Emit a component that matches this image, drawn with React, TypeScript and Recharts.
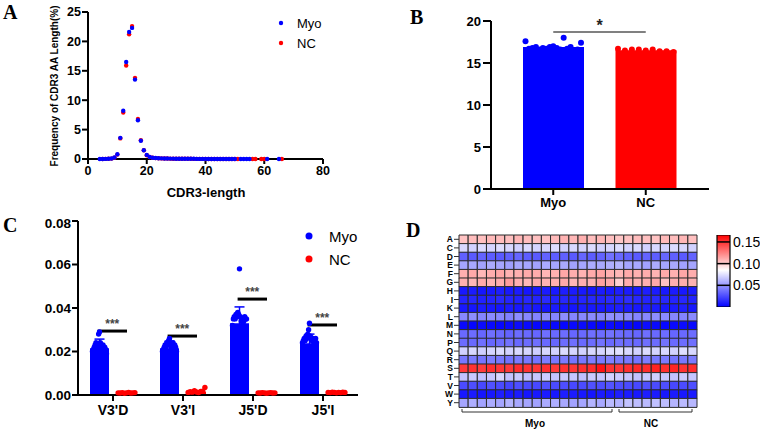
import React from 'react';
import {
  ScatterChart, Scatter, XAxis, YAxis, ComposedChart, Bar, BarChart, Cell,
  ReferenceLine, ErrorBar,
} from 'recharts';

const FONT = '"Liberation Sans", Arial, Helvetica, sans-serif';
const SERIF = '"Liberation Serif", "Times New Roman", serif';
const BLUE = '#0000ff';
const RED = '#ff0000';

// ---------- Panel A: CDR3 length distribution ----------
const myoLen = [4, 5, 6, 7, 8, 9, 10, 11, 12, 13, 14, 15, 16, 17, 18, 19, 20, 21, 22, 23, 24, 25, 26, 27, 28, 29, 30, 31, 32, 33, 34, 35, 36, 37, 38, 39, 40, 41, 42, 43, 44, 45, 46, 47, 48, 49, 50, 52, 53, 54, 55, 61, 65];
const myoFreq = [0.01, 0.01, 0.02, 0.03, 0.08, 0.25, 0.8, 3.6, 8.2, 16.5, 21.6, 22.3, 13.5, 6.6, 3.1, 1.5, 0.7, 0.35, 0.22, 0.16, 0.13, 0.11, 0.09, 0.08, 0.07, 0.06, 0.05, 0.05, 0.04, 0.04, 0.03, 0.03, 0.03, 0.02, 0.02, 0.02, 0.02, 0.01, 0.01, 0.01, 0.01, 0.01, 0.01, 0.01, 0.01, 0.01, 0.01, 0.005, 0.005, 0.005, 0.005, 0.003, 0.002];
const ncLen = [5, 6, 7, 8, 9, 10, 11, 12, 13, 14, 15, 16, 17, 18, 19, 20, 21, 22, 23, 24, 25, 26, 27, 28, 29, 30, 31, 32, 33, 34, 35, 36, 37, 38, 39, 40, 41, 42, 43, 44, 45, 46, 47, 48, 49, 50, 51, 56, 57, 59, 60, 66];
const ncFreq = [0.01, 0.02, 0.03, 0.07, 0.22, 0.75, 3.5, 7.9, 15.9, 21.2, 22.6, 13.8, 6.8, 3.2, 1.5, 0.65, 0.33, 0.2, 0.15, 0.12, 0.1, 0.09, 0.08, 0.06, 0.05, 0.05, 0.04, 0.04, 0.03, 0.03, 0.03, 0.02, 0.02, 0.02, 0.02, 0.01, 0.01, 0.01, 0.01, 0.01, 0.01, 0.01, 0.01, 0.01, 0.01, 0.01, 0.01, 0.004, 0.004, 0.004, 0.004, 0.004];
const aXTicks = [0, 20, 40, 60, 80];
const aYTicks = [0, 5, 10, 15, 20, 25];

// ---------- Panel B: per-sample percentage ----------
const bGroups = ['Myo', 'NC'];
const bMyo = [17.6, 16.7, 16.8, 16.9, 16.6, 16.8, 16.7, 16.9, 17.0, 16.8, 16.6, 18.0, 16.7, 16.9, 16.5, 16.6, 17.4];
const bNc = [16.7, 16.5, 16.6, 16.6, 16.5, 16.6, 16.4, 16.4, 16.3];
const bYTicks = [0, 5, 10, 15, 20];
const bSigY = 18.7;

// ---------- Panel C: insertion/deletion ----------
const cCats = ["V3'D", "V3'I", "J5'D", "J5'I"];
const cMyoMean = [0.0215, 0.0215, 0.033, 0.0238];
const cMyoErr = [0.0042, 0.0032, 0.0075, 0.0042];
const cNcMean = [0.001, 0.0015, 0.001, 0.0012];
const cMyoDots = [
  [0.020, 0.021, 0.022, 0.023, 0.024, 0.022, 0.023, 0.028, 0.029, 0.024, 0.022, 0.021, 0.023, 0.020, 0.022, 0.021, 0.019],
  [0.020, 0.021, 0.022, 0.023, 0.022, 0.024, 0.023, 0.025, 0.026, 0.024, 0.023, 0.022, 0.024, 0.021, 0.023, 0.022, 0.020],
  [0.032, 0.035, 0.036, 0.035, 0.037, 0.036, 0.038, 0.037, 0.058, 0.036, 0.034, 0.035, 0.033, 0.034, 0.036, 0.035, 0.035],
  [0.024, 0.025, 0.026, 0.025, 0.027, 0.026, 0.028, 0.030, 0.033, 0.027, 0.026, 0.025, 0.026, 0.024, 0.025, 0.026, 0.024],
];
const cNcDots = [
  [0.0010, 0.0009, 0.0011, 0.0008, 0.0010, 0.0012, 0.0009, 0.0010, 0.0011],
  [0.0012, 0.0015, 0.0013, 0.0020, 0.0014, 0.0011, 0.0016, 0.0018, 0.0035],
  [0.0010, 0.0009, 0.0011, 0.0010, 0.0008, 0.0010, 0.0011, 0.0009, 0.0010],
  [0.0012, 0.0011, 0.0013, 0.0012, 0.0010, 0.0012, 0.0011, 0.0013, 0.0012],
];
const cSigY = [0.0294, 0.0271, 0.0441, 0.0322];
const cYTicks = [0, 0.02, 0.04, 0.06, 0.08];

// ---------- Panel D: amino-acid usage heatmap (values x1000) ----------
const dRows = ['A', 'C', 'D', 'E', 'F', 'G', 'H', 'I', 'K', 'L', 'M', 'N', 'P', 'Q', 'R', 'S', 'T', 'V', 'W', 'Y'];
const rowA = [104, 106, 105, 107, 106, 105, 108, 106, 105, 104, 107, 109, 108, 110, 106, 108, 105, 103, 104, 106, 105, 104, 107, 106, 108, 105];
const rowC = [72, 70, 73, 71, 74, 72, 70, 73, 71, 72, 74, 70, 72, 71, 73, 70, 72, 74, 71, 73, 70, 72, 71, 73, 72, 70];
const rowD = [32, 30, 33, 31, 30, 32, 34, 31, 30, 33, 31, 32, 30, 34, 31, 33, 38, 35, 32, 30, 33, 31, 34, 32, 30, 33];
const rowE = [55, 56, 54, 57, 55, 53, 56, 55, 54, 57, 55, 56, 54, 55, 57, 56, 58, 60, 55, 56, 54, 57, 55, 56, 54, 55];
const rowF = [110, 112, 108, 111, 113, 109, 110, 112, 111, 108, 110, 113, 111, 109, 112, 114, 110, 108, 112, 110, 111, 109, 112, 110, 113, 111];
const rowG = [110, 108, 112, 109, 111, 116, 110, 108, 111, 109, 110, 112, 108, 110, 109, 115, 112, 100, 111, 109, 110, 112, 104, 110, 111, 109];
const rowH = [8, 9, 7, 8, 10, 8, 9, 7, 8, 9, 8, 10, 9, 8, 7, 9, 8, 10, 9, 8, 10, 9, 8, 9, 8, 9];
const rowI = [12, 13, 11, 12, 14, 12, 11, 13, 12, 14, 12, 13, 11, 12, 13, 12, 14, 13, 15, 13, 12, 14, 13, 12, 13, 12];
const rowK = [8, 7, 9, 8, 7, 9, 8, 10, 8, 7, 9, 8, 7, 9, 8, 8, 9, 10, 9, 8, 10, 9, 8, 9, 10, 8];
const rowL = [45, 47, 44, 46, 45, 43, 47, 45, 44, 46, 45, 47, 44, 45, 46, 44, 48, 47, 46, 44, 45, 47, 46, 45, 44, 46];
const rowM = [3, 2, 4, 3, 2, 3, 4, 3, 2, 4, 3, 2, 3, 4, 3, 2, 4, 3, 3, 2, 4, 3, 2, 3, 4, 3];
const rowN = [35, 36, 34, 37, 35, 33, 36, 35, 34, 37, 35, 36, 34, 35, 37, 36, 38, 36, 35, 34, 37, 35, 36, 34, 35, 36];
const rowP = [36, 35, 37, 34, 36, 38, 35, 36, 37, 35, 34, 36, 37, 35, 36, 38, 35, 37, 36, 35, 37, 36, 38, 35, 36, 37];
const rowQ = [70, 72, 69, 71, 73, 70, 72, 71, 69, 72, 70, 73, 71, 70, 72, 71, 74, 75, 72, 70, 73, 71, 72, 70, 74, 72];
const rowR = [40, 41, 39, 42, 40, 38, 41, 40, 39, 42, 40, 41, 39, 40, 42, 41, 43, 41, 40, 39, 42, 40, 41, 39, 40, 41];
const rowS = [148, 150, 147, 151, 149, 148, 152, 150, 149, 151, 148, 150, 149, 151, 152, 160, 150, 149, 151, 153, 152, 155, 151, 154, 150, 152];
const rowT = [65, 67, 64, 66, 72, 65, 67, 64, 66, 68, 65, 67, 66, 64, 67, 66, 70, 68, 66, 65, 67, 69, 66, 65, 68, 66];
const rowV = [25, 26, 24, 27, 25, 23, 26, 25, 24, 27, 25, 26, 24, 25, 27, 26, 28, 26, 25, 24, 27, 25, 26, 24, 25, 26];
const rowW = [8, 9, 7, 8, 10, 8, 9, 7, 8, 9, 8, 10, 9, 8, 7, 9, 8, 10, 9, 8, 10, 9, 8, 9, 8, 9];
const rowY = [55, 58, 54, 57, 55, 60, 56, 55, 54, 57, 58, 56, 54, 55, 60, 56, 62, 60, 65, 63, 62, 64, 63, 60, 62, 61];
const heatRows = [rowA, rowC, rowD, rowE, rowF, rowG, rowH, rowI, rowK, rowL, rowM, rowN, rowP, rowQ, rowR, rowS, rowT, rowV, rowW, rowY];
const dGroups = [{ name: 'Myo', n: 17 }, { name: 'NC', n: 9 }];
const cbTicks = [0.05, 0.1, 0.15];
const cbMax = 0.166;
const cbMid = 0.085;

// ---------- helpers ----------
const mean = (a: number[]) => a.reduce((s, v) => s + v, 0) / a.length;
function heatColor(v: number) {
  if (v <= cbMid) {
    const c = Math.round(255 * Math.max(0, v / cbMid));
    return `rgb(${c},${c},255)`;
  }
  const t = Math.min(1, (v - cbMid) / (cbMax - cbMid));
  const c = Math.round(255 * (1 - t));
  return `rgb(255,${c},${c})`;
}
const spread = (n: number, j: number, half: number) => (n <= 1 ? 0 : -half + (2 * half * j) / (n - 1));

const axisTick = (size: number) => ({ fontSize: size, fontWeight: 'bold' as const, fill: '#000', fontFamily: FONT });
const dot = (r: number, color: string) => (p: any) => <circle cx={p.cx} cy={p.cy} r={r} fill={color} />;

// data assembly
const aMyo = myoLen.map((x, i) => ({ x, y: myoFreq[i] }));
const aNc = ncLen.map((x, i) => ({ x, y: ncFreq[i] }));

const bData = [{ g: bGroups[0], v: mean(bMyo) }, { g: bGroups[1], v: mean(bNc) }];
const bMyoPts = bMyo.map((y, j) => ({ x: 0 + spread(bMyo.length, j, 0.3), y }));
const bNcPts = bNc.map((y, j) => ({ x: 1 + spread(bNc.length, j, 0.3), y }));

const cData = cCats.map((c, i) => ({ c, myo: cMyoMean[i], nc: cNcMean[i], err: cMyoErr[i] }));
const cMyoPts = cMyoDots.flatMap((arr, i) => arr.map((y, j) => ({ x: i + 0.307 + spread(arr.length, j, 0.1), y })));
const cNcPts = cNcDots.flatMap((arr, i) => arr.map((y, j) => ({ x: i + 0.693 + spread(arr.length, j, 0.12), y })));

const nCols = rowA.length;
const colKeys = Array.from({ length: nCols }, (_, j) => `c${j}`);
const hmData = dRows.map((row) => {
  const o: any = { row };
  colKeys.forEach((k) => (o[k] = 1));
  return o;
});

export default function App() {
  return (
    <div style={{ position: 'absolute', left: 0, top: 0, width: 760, height: 431, background: '#fff', fontFamily: FONT, overflow: 'hidden' }}>
      {/* Panel A */}
      <div style={{ position: 'absolute', left: 0, top: 0 }}>
        <ScatterChart width={340} height={210} margin={{ top: 12, right: 17, bottom: 0, left: 0 }}>
          <XAxis type="number" dataKey="x" domain={[0, 80]} ticks={aXTicks} height={51}
            stroke="#000" strokeWidth={2} tickSize={5} tickMargin={2} tick={axisTick(12.5)} />
          <YAxis type="number" dataKey="y" domain={[0, 25]} ticks={aYTicks} width={88}
            stroke="#000" strokeWidth={2} tickSize={6} tickMargin={1} tick={axisTick(12.5)} />
          <Scatter data={aNc} isAnimationActive={false} shape={dot(2.2, RED)} />
          <Scatter data={aMyo} isAnimationActive={false} shape={dot(2.2, BLUE)} />
        </ScatterChart>
      </div>

      {/* Panel B */}
      <div style={{ position: 'absolute', left: 380, top: 0 }}>
        <ComposedChart width={380} height={215} data={bData} margin={{ top: 21, right: 51, bottom: 0, left: 71 }}>
          <XAxis xAxisId="cat" dataKey="g" type="category" padding={{ left: 16, right: 17 }} height={26}
            stroke="#000" strokeWidth={2} tickSize={6} tickMargin={3} tick={axisTick(13)} />
          <XAxis xAxisId="num" dataKey="x" type="number" domain={[-0.5, 1.5]} padding={{ left: 16, right: 17 }} hide allowDataOverflow />
          <YAxis domain={[0, 20]} ticks={bYTicks} width={40} stroke="#000" strokeWidth={2}
            tickSize={8} tickMargin={2} tick={axisTick(13)} />
          <Bar xAxisId="cat" dataKey="v" barSize={61} isAnimationActive={false}>
            <Cell fill={BLUE} />
            <Cell fill={RED} />
          </Bar>
          <Scatter xAxisId="num" data={bMyoPts} dataKey="y" isAnimationActive={false} shape={dot(3, BLUE)} />
          <Scatter xAxisId="num" data={bNcPts} dataKey="y" isAnimationActive={false} shape={dot(3, RED)} />
          <ReferenceLine xAxisId="num" segment={[{ x: 0, y: bSigY }, { x: 1, y: bSigY }]} stroke="#808080" strokeWidth={2}
            label={{ value: '*', position: 'top', offset: 1, fill: '#222', fontSize: 16, fontWeight: 'bold' }} />
        </ComposedChart>
      </div>

      {/* Panel C */}
      <div style={{ position: 'absolute', left: 0, top: 215 }}>
        <ComposedChart width={380} height={216} data={cData} margin={{ top: 6, right: 22, bottom: 0, left: 0 }} barGap={8}>
          <XAxis xAxisId="cat" dataKey="c" type="category" height={36} stroke="#000" strokeWidth={2}
            tickSize={6} tickMargin={4} tick={axisTick(14)} />
          <XAxis xAxisId="num" dataKey="x" type="number" domain={[0, 4]} hide allowDataOverflow />
          <YAxis domain={[0, 0.08]} ticks={cYTicks} width={78} stroke="#000" strokeWidth={2}
            tickSize={6} tickMargin={1} tick={axisTick(13.5)} tickFormatter={(v: number) => v.toFixed(2)} />
          <Bar xAxisId="cat" dataKey="myo" fill={BLUE} barSize={19} isAnimationActive={false}>
            <ErrorBar dataKey="err" width={5} stroke={BLUE} strokeWidth={1.5} direction="y" />
          </Bar>
          <Bar xAxisId="cat" dataKey="nc" fill={RED} barSize={19} isAnimationActive={false} />
          <Scatter xAxisId="num" data={cNcPts} dataKey="y" isAnimationActive={false} shape={dot(2.7, RED)} />
          <Scatter xAxisId="num" data={cMyoPts} dataKey="y" isAnimationActive={false} shape={dot(2.7, BLUE)} />
          {cSigY.map((y, i) => (
            <ReferenceLine key={i} xAxisId="num" segment={[{ x: i + 0.28, y }, { x: i + 0.7, y }]} stroke="#000" strokeWidth={3}
              label={{ value: '***', position: 'top', offset: 3, fill: '#444', fontSize: 12, fontWeight: 'bold' }} />
          ))}
        </ComposedChart>
      </div>

      {/* Panel D heatmap */}
      <div style={{ position: 'absolute', left: 400, top: 215 }}>
        <BarChart layout="vertical" width={360} height={216} data={hmData} margin={{ top: 20, right: 63, bottom: 24, left: 0 }}
          barCategoryGap={0}>
          <XAxis type="number" domain={[0, nCols]} hide />
          <YAxis type="category" dataKey="row" width={59} axisLine={false} tickSize={5} tickMargin={1} interval={0}
            tickLine={{ stroke: '#333' }} tick={axisTick(8.5)} />
          {colKeys.map((k, j) => (
            <Bar key={k} dataKey={k} stackId="h" isAnimationActive={false} stroke="#2a2a2a" strokeWidth={1}>
              {heatRows.map((r, i) => <Cell key={i} fill={heatColor(r[j] / 1000)} />)}
            </Bar>
          ))}
        </BarChart>
      </div>

      {/* Colour bar */}
      <div style={{ position: 'absolute', left: 700, top: 215 }}>
        <BarChart width={60} height={110} data={[{ v: cbMax }]} margin={{ top: 20, right: 0, bottom: 18, left: 17 }} barCategoryGap={0}>
          <XAxis type="category" hide />
          <YAxis orientation="right" domain={[0, cbMax]} ticks={cbTicks} width={30} axisLine={false} tickSize={0} tickMargin={3}
            tick={{ fontSize: 14, fill: '#000', fontFamily: FONT }} tickFormatter={(v: number) => v.toFixed(2)} allowDataOverflow />
          <Bar dataKey="v" fill="url(#cbgrad)" stroke="#000" strokeWidth={1.2} isAnimationActive={false} />
          {cbTicks.map((t) => <ReferenceLine key={t} y={t} stroke="#000" strokeWidth={1.5} />)}
        </BarChart>
      </div>

      {/* Overlay: titles, legends, letters, brackets */}
      <svg width={760} height={431} style={{ position: 'absolute', left: 0, top: 0, pointerEvents: 'none' }}>
        <defs>
          <linearGradient id="cbgrad" x1="0" y1="0" x2="0" y2="1">
            <stop offset="0" stopColor="#ff0000" />
            <stop offset={(cbMax - cbMid) / cbMax} stopColor="#ffffff" />
            <stop offset="1" stopColor="#0000ff" />
          </linearGradient>
        </defs>
        <g fontFamily={SERIF} fontWeight="bold" fontSize={20} fill="#000">
          <text x={3} y={19}>A</text>
          <text x={410} y={24}>B</text>
          <text x={3} y={232}>C</text>
          <text x={406} y={237}>D</text>
        </g>
        <g fontFamily={FONT} fill="#000">
          <text transform="translate(58,86) rotate(-90)" textAnchor="middle" fontSize={10} fontWeight="bold">Frequency of CDR3 AA Length(%)</text>
          <text x={206} y={197} textAnchor="middle" fontSize={13} fontWeight="bold">CDR3-length</text>
          <circle cx={281} cy={23} r={2.2} fill={BLUE} />
          <text x={297} y={27.5} fontSize={13}>Myo</text>
          <circle cx={281} cy={43} r={2.2} fill={RED} />
          <text x={297} y={47.5} fontSize={13}>NC</text>
          <circle cx={309} cy={236} r={3.5} fill={BLUE} />
          <text x={329} y={241.5} fontSize={15}>Myo</text>
          <circle cx={309} cy={259} r={3.5} fill={RED} />
          <text x={329} y={264.5} fontSize={15}>NC</text>
        </g>
        <g stroke="#333" strokeWidth={1} fill="none">
          <polyline points="462,409 462,412 612,412 612,409" />
          <polyline points="619,409 619,412 692,412 692,409" />
        </g>
        <g fontFamily={FONT} fontWeight="bold" fontSize={10} fill="#000" textAnchor="middle">
          <text x={535} y={427}>{dGroups[0].name}</text>
          <text x={651} y={427}>{dGroups[1].name}</text>
        </g>
      </svg>
    </div>
  );
}
